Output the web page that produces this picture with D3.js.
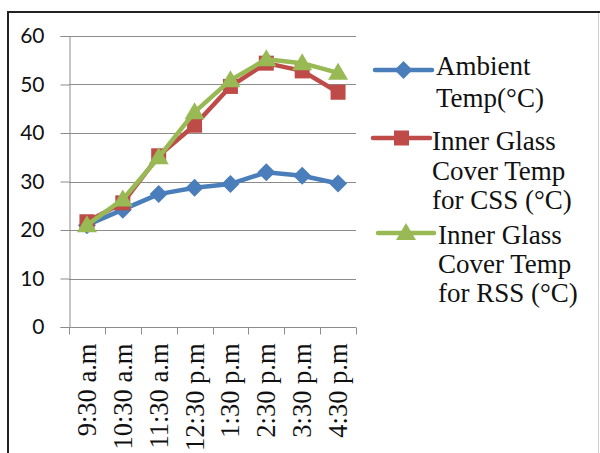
<!DOCTYPE html>
<html>
<head>
<meta charset="utf-8">
<script src="https://cdn.jsdelivr.net/npm/d3@7"></script>
<style>
  html, body { margin: 0; padding: 0; background: #fff; }
  svg { display: block; }
</style>
</head>
<body>
<svg id="chart" width="600" height="453"></svg>
<script>
// Hourly readings
const times = ["9:30 a.m", "10:30 a.m", "11:30 a.m", "12:30 p.m", "1:30 p.m", "2:30 p.m", "3:30 p.m", "4:30 p.m"];
const ambientTemp = [21.0, 24.2, 27.4, 28.7, 29.5, 31.9, 31.2, 29.6];
const cssGlassTemp = [21.7, 25.6, 35.3, 41.6, 49.6, 54.4, 52.8, 48.4];
const rssGlassTemp = [21.0, 26.3, 35.0, 44.3, 50.9, 55.2, 54.4, 52.4];
const yTicks = [0, 10, 20, 30, 40, 50, 60];
const legendLabels = [
  ["Ambient", "Temp(°C)"],
  ["Inner Glass", "Cover Temp", "for CSS (°C)"],
  ["Inner Glass", "Cover Temp", "for RSS (°C)"]
];

const series = [
  { values: ambientTemp, color: "#4a7ebb", marker: "diamond", label: legendLabels[0] },
  { values: cssGlassTemp, color: "#be4b48", marker: "square", label: legendLabels[1] },
  { values: rssGlassTemp, color: "#98b954", marker: "triangle", label: legendLabels[2] }
];

const svg = d3.select("#chart");

// Outer frame
svg.append("line").attr("x1", 7).attr("x2", 600).attr("y1", 12).attr("y2", 12)
  .attr("stroke", "#222").attr("stroke-width", 2);
svg.append("line").attr("x1", 8).attr("x2", 8).attr("y1", 11).attr("y2", 453)
  .attr("stroke", "#222").attr("stroke-width", 2);
svg.append("line").attr("x1", 598.5).attr("x2", 598.5).attr("y1", 13).attr("y2", 453)
  .attr("stroke", "#d0d0d0").attr("stroke-width", 1);

const plot = { left: 69, right: 356, top: 36, bottom: 327 };

const x = d3.scaleBand().domain(times).range([plot.left, plot.right]).padding(0);
const y = d3.scaleLinear().domain([0, 60]).range([plot.bottom, plot.top]);

// Gridlines
svg.append("g").selectAll("line").data(yTicks.filter(d => d > 0)).join("line")
  .attr("x1", plot.left).attr("x2", plot.right)
  .attr("y1", d => Math.round(y(d)) + 0.5).attr("y2", d => Math.round(y(d)) + 0.5)
  .attr("stroke", "#8c8c8c").attr("stroke-width", 1);

// Y axis
const yAxis = svg.append("g")
  .attr("transform", `translate(${plot.left + 0.5},0)`)
  .call(d3.axisLeft(y).tickValues(yTicks).tickSize(9).tickPadding(16).tickFormat(d3.format("d")));
yAxis.select(".domain").attr("stroke", "#8c8c8c");
yAxis.selectAll(".tick line").attr("stroke", "#8c8c8c");
yAxis.selectAll(".tick text")
  .attr("font-family", "Lato, 'Liberation Sans', sans-serif")
  .attr("font-size", 21).attr("fill", "#111");

// X axis: ticks at category boundaries
const xAxisG = svg.append("g").attr("transform", `translate(0,${plot.bottom + 0.5})`);
xAxisG.append("line").attr("x1", plot.left).attr("x2", plot.right)
  .attr("stroke", "#8c8c8c");
const boundaries = times.map(t => x(t)).concat([x(times[times.length - 1]) + x.bandwidth()]);
xAxisG.selectAll("line.tk").data(boundaries).join("line").attr("class", "tk")
  .attr("x1", d => Math.round(d) + 0.5).attr("x2", d => Math.round(d) + 0.5)
  .attr("y1", 0).attr("y2", 7).attr("stroke", "#8c8c8c");
xAxisG.selectAll("text").data(times).join("text")
  .attr("transform", d => `translate(${x(d) + x.bandwidth() / 2 + 9},16) rotate(-90)`)
  .attr("text-anchor", "end")
  .attr("font-family", "'Liberation Serif', 'Times New Roman', serif")
  .attr("font-size", 26.5).attr("fill", "#111")
  .text(d => d);

// Marker shapes
function markerPath(type) {
  if (type === "diamond") return "M0,-9L9,0L0,9L-9,0Z";
  if (type === "square") return "M-7.5,-7.5H7.5V7.5H-7.5Z";
  return "M0,-10L10,7L-10,7Z";
}

const line = d3.line().x((d, i) => x(times[i]) + x.bandwidth() / 2).y(d => y(d));

series.forEach(s => {
  const g = svg.append("g");
  g.append("path").datum(s.values).attr("d", line)
    .attr("fill", "none").attr("stroke", s.color).attr("stroke-width", 4.5)
    .attr("stroke-linejoin", "round");
  g.selectAll("path.m").data(s.values).join("path").attr("class", "m")
    .attr("d", markerPath(s.marker))
    .attr("transform", (d, i) => `translate(${x(times[i]) + x.bandwidth() / 2},${y(d)})`)
    .attr("fill", s.color);
});

// Legend
const legendRows = [
  { lineY: 70, x1: 375, x2: 432, textX: 436, baselines: [75, 107] },
  { lineY: 138, x1: 373, x2: 430, textX: 432, baselines: [150, 180, 209] },
  { lineY: 233, x1: 378, x2: 434, textX: 438, baselines: [244, 273, 302] }
];
series.forEach((s, i) => {
  const r = legendRows[i];
  const g = svg.append("g");
  g.append("line").attr("x1", r.x1).attr("x2", r.x2).attr("y1", r.lineY).attr("y2", r.lineY)
    .attr("stroke", s.color).attr("stroke-width", 4.5).attr("stroke-linecap", "round");
  g.append("path").attr("d", markerPath(s.marker))
    .attr("transform", `translate(${(r.x1 + r.x2) / 2},${r.lineY})`)
    .attr("fill", s.color);
  s.label.forEach((t, k) => {
    g.append("text").attr("x", r.textX).attr("y", r.baselines[k])
      .attr("font-family", "'Liberation Serif', 'Times New Roman', serif")
      .attr("font-size", 27).attr("fill", "#111").text(t);
  });
});
</script>
</body>
</html>
